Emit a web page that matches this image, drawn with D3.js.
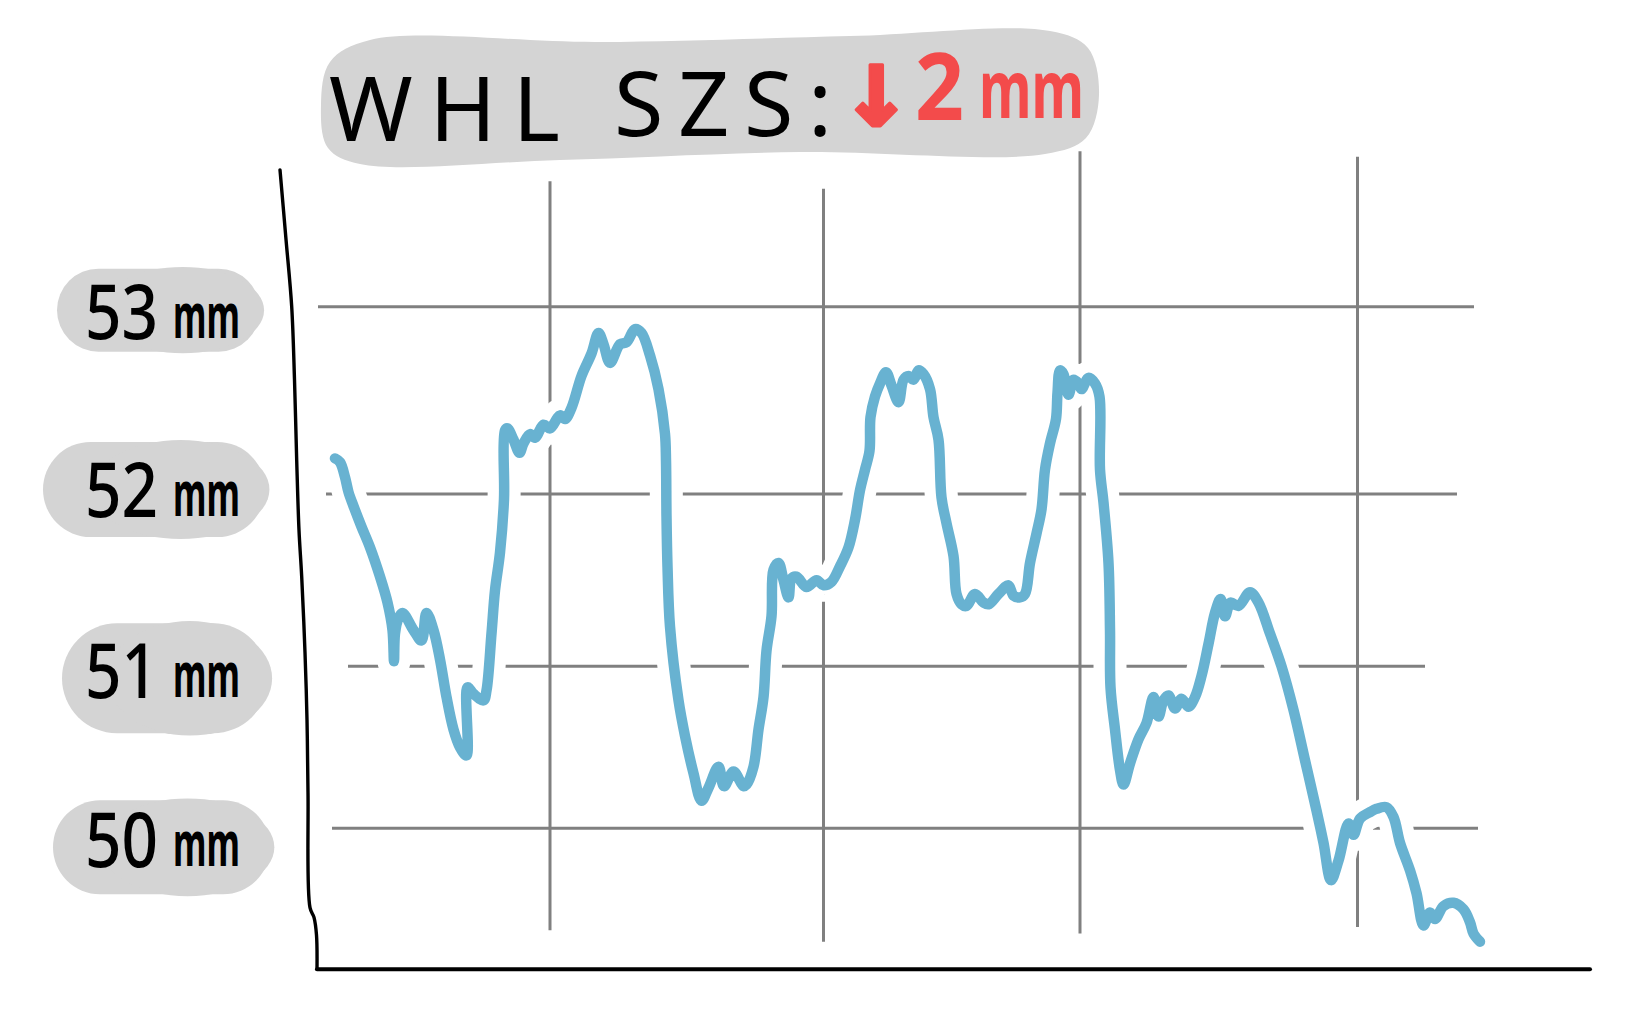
<!DOCTYPE html>
<html><head><meta charset="utf-8">
<script src="https://cdn.jsdelivr.net/npm/d3@7/dist/d3.min.js"></script>
<style>html,body{margin:0;padding:0;background:#fff;overflow:hidden}svg{display:block}</style>
</head><body>
<svg id="chart" width="1641" height="1020"></svg>
<script>
// ---------- data ----------
const titleText = "WHL";
const titleText2 = "SZS:";
const titleArrow = "↓";
const titleChange = "2";
const unitLabel = "mm";
const yTicks = [50, 51, 52, 53];
const yTickLabels = ["50", "51", "52", "53"];
const gridXValues = [43, 97.7, 149, 204.5];

const days = [0,1,2,2.7,3.7,5.3,7,9,10.5,11.5,11.8,12,12.7,13.5,15.7,17.3,18.3,19.7,21,22.3,
23.7,25,26.3,26.5,27.7,29.7,30.3,31.3,32,33,33.8,34,34.5,35.7,36.9,37.7,39,40,41.7,43,
45,46,47.3,49.3,51.3,52.7,53.7,55,57,58.3,60,61.3,63,64.7,66,66.2,66.3,66.5,67,68.7,
70,71.7,73.3,74.7,76.7,77.8,79.7,81.7,82.3,83.7,84.7,85.7,86.3,87.3,87.7,88.7,89.7,90.7,91.3,92.3,
94.3,96.3,97.7,99.3,101,102.7,104,105,106,106.9,107.1,108,109,110.2,111.3,112.7,113.7,114.7,115.7,116.7,
117.7,119,119.7,120.7,121.3,122.3,123.7,124.3,125.3,126.3,128,129.7,130.7,132.7,134.7,135.7,137,138,139,140.3,
141.3,142,143,144.2,144.5,145,145.7,146.7,147.7,148.7,149.3,150.7,152,152.9,153,153.7,154.7,155,155.1,156,
157,157.7,159,160.7,162.3,163.7,164.7,165.7,166.7,168,169.3,170.7,172,173.3,174.7,176,177.1,178,179.1,180.7,
183,184.7,187,189.3,191.7,194,196.3,197.7,199.2,200.7,202.7,203.7,205,207,208.3,210.3,211.7,213,215,216.3,
217.7,219,220,221.7,223.7,225.7,227,227.7,229];

const wheelSizeMm = [52.19,52.17,52.09,52.01,51.93,51.81,51.69,51.52,51.37,51.21,51.03,51.19,51.28,51.31,51.21,51.15,51.31,51.21,51.04,50.81,
50.61,50.50,50.45,50.87,50.83,50.79,50.85,51.19,51.44,51.66,51.97,52.34,52.35,52.29,52.22,52.27,52.32,52.30,52.37,52.35,
52.42,52.40,52.46,52.63,52.75,52.86,52.80,52.70,52.80,52.81,52.88,52.86,52.74,52.56,52.32,52.18,51.87,51.58,51.23,50.79,
50.57,50.34,50.17,50.25,50.38,50.26,50.35,50.26,50.27,50.38,50.61,50.81,51.09,51.29,51.56,51.60,51.50,51.40,51.51,51.52,
51.46,51.50,51.47,51.49,51.58,51.69,51.85,52.02,52.13,52.23,52.41,52.52,52.59,52.65,52.58,52.49,52.61,52.63,52.61,52.66,
52.64,52.56,52.41,52.29,51.98,51.83,51.64,51.42,51.36,51.35,51.42,51.37,51.36,51.42,51.47,51.41,51.40,51.42,51.60,51.77,
51.91,52.13,52.27,52.40,52.54,52.66,52.64,52.53,52.61,52.59,52.56,52.62,52.59,52.52,52.13,51.95,51.60,51.21,50.87,50.61,
50.36,50.27,50.40,50.55,50.65,50.81,50.69,50.79,50.82,50.74,50.80,50.75,50.81,50.94,51.13,51.31,51.39,51.29,51.37,51.35,
51.43,51.37,51.19,51.00,50.73,50.42,50.11,49.91,49.68,49.80,50.03,49.96,50.06,50.10,50.12,50.13,50.07,49.91,49.74,49.60,
49.40,49.48,49.44,49.52,49.54,49.50,49.42,49.35,49.30];

// ---------- style ----------
const BLUE = "#68b2d1", GRID = "#808080", BLOB = "#d4d4d4", RED = "#f34b4b";
const hGridExtent = [[-0.6, 228.6], [2.6, 218], [-1.8, 224.4], [-3.4, 227.8]]; // per tick, in day units
const vGridExtent = [[53.67, 49.37], [53.63, 49.30], [53.83, 49.35], [53.80, 49.39]]; // in mm
const labelDy = [39, 32, 23, 32];
const labelBlob = [[53, 217, -67, 94], [62, 206, -75, 110], [43, 222, -75, 95], [57, 203, -70, 83]];

// ---------- scales ----------
const svg = d3.select("#chart");
const x = d3.scaleLinear().domain([0, 229]).range([335, 1480]);
const y = d3.scaleLinear().domain([50, 51, 52, 53]).range([828.3, 666.3, 494, 306.7]);
const axisBase = 49.13;

// ---------- title ----------
const blobPts = [[330,62],[370,40],[600,42],[850,36],[1050,31],[1088,48],[1099,95],[1086,138],[1045,154],[800,152],[560,160],[360,164],[328,148],[321,105]];
svg.append("path")
  .attr("d", d3.line().curve(d3.curveCatmullRomClosed.alpha(0.5))(blobPts))
  .attr("fill", BLOB);

const tg = svg.append("g").attr("font-family", "'Noto Sans', 'DejaVu Sans', sans-serif");
tg.append("text").attr("x", 329).attr("y", 141).attr("font-size", 90)
  .attr("textLength", 231).attr("lengthAdjust", "spacing").attr("fill", "#000").text(titleText);
tg.append("text").attr("x", 614).attr("y", 136).attr("font-size", 90)
  .attr("textLength", 218).attr("lengthAdjust", "spacing").attr("fill", "#000").text(titleText2);

tg.append("text").attr("x", 842).attr("y", 126).attr("font-size", 114)
  .attr("font-family", "'DejaVu Sans Mono', monospace").attr("font-weight", "bold")
  .attr("fill", RED).attr("stroke", RED).attr("stroke-width", 3).attr("stroke-linejoin", "round")
  .text(titleArrow);
tg.append("text").attr("x", 915).attr("y", 120).attr("font-size", 94).attr("font-weight", "bold")
  .attr("fill", RED).attr("textLength", 49).attr("lengthAdjust", "spacingAndGlyphs").text(titleChange);
tg.append("text").attr("x", 979).attr("y", 118).attr("font-size", 80).attr("font-weight", "bold")
  .attr("fill", RED).attr("textLength", 105).attr("lengthAdjust", "spacingAndGlyphs").text(unitLabel);

// ---------- grid ----------
const gGrid = svg.append("g").attr("stroke", GRID).attr("stroke-width", 3).attr("stroke-linecap", "butt");
yTicks.forEach((v, i) => {
  gGrid.append("line")
    .attr("x1", x(hGridExtent[i][0])).attr("x2", x(hGridExtent[i][1]))
    .attr("y1", y(v)).attr("y2", y(v));
});
gridXValues.forEach((d, i) => {
  gGrid.append("line")
    .attr("x1", x(d)).attr("x2", x(d))
    .attr("y1", y(vGridExtent[i][0])).attr("y2", y(vGridExtent[i][1]));
});

// ---------- series ----------
const series = days.map((d, i) => [d, wheelSizeMm[i]]);
const line = d3.line().x(d => x(d[0])).y(d => y(d[1])).curve(d3.curveCatmullRom.alpha(0.5));
svg.append("path").attr("d", line(series)).attr("fill", "none")
  .attr("stroke", "#fff").attr("stroke-width", 33).attr("stroke-linecap", "round").attr("stroke-linejoin", "round");
svg.append("path").attr("d", line(series)).attr("fill", "none")
  .attr("stroke", BLUE).attr("stroke-width", 10.5).attr("stroke-linecap", "round").attr("stroke-linejoin", "round");

// ---------- axes ----------
const yAxisPts = [[-11,53.73],[-9.8,53.36],[-8.66,53.0],[-8.1,52.61],[-7.66,52.18],[-7.2,51.79],[-6.66,51.52],[-6,51.08],[-5.6,50.67],[-5.4,50.22],[-5,49.51],[-4.2,49.45],[-3.7,49.34],[-3.6,axisBase]];
svg.append("path")
  .attr("d", d3.line().x(d => x(d[0])).y(d => y(d[1])).curve(d3.curveCatmullRom)(yAxisPts))
  .attr("fill", "none").attr("stroke", "#000").attr("stroke-width", 3.4).attr("stroke-linecap", "round");
svg.append("line")
  .attr("x1", x(-3.6)).attr("x2", x(251)).attr("y1", y(axisBase)).attr("y2", y(axisBase))
  .attr("stroke", "#000").attr("stroke-width", 4).attr("stroke-linecap", "round");

// ---------- y labels ----------
const gl = svg.append("g").attr("font-family", "'Noto Sans', 'DejaVu Sans', sans-serif").attr("fill", "#000");
yTicks.forEach((v, i) => {
  const base = y(v) + labelDy[i];
  const b = labelBlob[i];
  const g = gl.append("g");
  g.append("rect").attr("x", b[0]).attr("y", base + b[2]).attr("width", b[1]).attr("height", b[3])
    .attr("rx", b[3] / 2).attr("fill", BLOB);
  g.append("ellipse").attr("cx", b[0] + b[1] * 0.62).attr("cy", base + b[2] + b[3] * 0.5)
    .attr("rx", b[1] * 0.4).attr("ry", b[3] * 0.52).attr("fill", BLOB);
  g.append("text").attr("x", 85).attr("y", base).attr("font-size", 76).attr("font-weight", 500)
    .attr("textLength", 73).attr("lengthAdjust", "spacingAndGlyphs").text(yTickLabels[i]);
  g.append("text").attr("x", 173).attr("y", base - 1).attr("font-size", 62).attr("font-weight", "bold")
    .attr("textLength", 67).attr("lengthAdjust", "spacingAndGlyphs").text(unitLabel);
});
</script>
</body></html>
